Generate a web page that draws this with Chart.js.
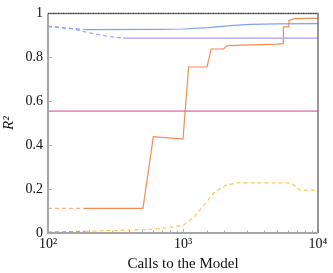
<!DOCTYPE html>
<html>
<head>
<meta charset="utf-8">
<script src="https://cdn.jsdelivr.net/npm/chart.js@4"></script>
<style>
  html, body { margin: 0; padding: 0; background: #fff; }
  #wrap { width: 333px; height: 273px; }
</style>
</head>
<body>
<div id="wrap"><canvas id="chart" width="333" height="273"></canvas></div>
<script>
// x values are "calls to the model", y values are R^2
const refX = [100, 10000];
const refY = [1, 1];

const pinkX = [100, 10000];
const pinkY = [0.555, 0.555];

const blueDashX = [100, 190];
const blueDashY = [0.94, 0.926];
const blueX = [190, 680, 1000, 1540, 2245, 3160, 5000, 10000];
const blueY = [0.926, 0.927, 0.929, 0.935, 0.944, 0.95, 0.952, 0.953];

const purpleDashX = [100, 150, 200, 270, 360];
const purpleDashY = [0.942, 0.93, 0.912, 0.897, 0.887];
const purpleX = [360, 10000];
const purpleY = [0.887, 0.887];

const orangeDashX = [100, 183];
const orangeDashY = [0.112, 0.112];
const orangeX = [183, 505, 603, 1000, 1100, 1507, 1615, 2000, 2124, 5000, 5520, 5540, 6080, 6100, 6620, 10000];
const orangeY = [0.112, 0.112, 0.439, 0.428, 0.756, 0.756, 0.838, 0.838, 0.853, 0.86, 0.862, 0.939, 0.939, 0.967, 0.976, 0.977];

const goldEarlyX = [100, 190];
const goldEarlyY = [0.004, 0.008];
const goldX = [190, 500, 680, 1000, 1200, 1420, 1690, 2060, 2510, 6300, 7430, 10000];
const goldY = [0.008, 0.015, 0.02, 0.034, 0.071, 0.124, 0.183, 0.217, 0.228, 0.228, 0.194, 0.196];

const xTickLabels = { 100: '10²', 1000: '10³', 10000: '10⁴' };
const yTickLabels = { 0: '0', 0.2: '0.2', 0.4: '0.4', 0.6: '0.6', 0.8: '0.8', 1: '1' };

function pts(xs, ys) {
    return xs.map((x, i) => ({ x: x, y: ys[i] }));
}

function line(xs, ys, color, dash, width) {
    return {
        data: pts(xs, ys),
        borderColor: color,
        backgroundColor: color,
        borderWidth: width || 1.2,
        borderDash: dash || [],
        pointRadius: 0,
        fill: false,
        tension: 0
    };
}

// inward tick marks and the frame, drawn like the original plot
const framePlugin = {
    id: 'frame',
    afterDatasetsDraw(chart) {
        const ctx = chart.ctx;
        const a = chart.chartArea;
        const xs = chart.scales.x;
        const ys = chart.scales.y;
        ctx.save();
        ctx.strokeStyle = '#b0b0b0';
        ctx.lineWidth = 1;
        xs.ticks.forEach(t => {
            const px = Math.round(xs.getPixelForValue(t.value)) + 0.5;
            const major = xTickLabels[t.value] !== undefined;
            ctx.beginPath();
            ctx.moveTo(px, a.bottom);
            ctx.lineTo(px, a.bottom - (major ? 4 : 2.5));
            ctx.stroke();
        });
        ys.ticks.forEach(t => {
            const py = Math.round(ys.getPixelForValue(t.value)) + 0.5;
            ctx.beginPath();
            ctx.moveTo(a.left, py);
            ctx.lineTo(a.left + 4, py);
            ctx.stroke();
        });
        ctx.strokeStyle = '#777';
        ctx.lineWidth = 1.5;
        ctx.beginPath();
        ctx.moveTo(a.left, a.top);
        ctx.lineTo(a.right, a.top);
        ctx.lineTo(a.right, a.bottom);
        ctx.stroke();
        ctx.strokeStyle = '#a6a6a6';
        ctx.lineWidth = 2;
        ctx.beginPath();
        ctx.moveTo(a.left, a.top);
        ctx.lineTo(a.left, a.bottom);
        ctx.lineTo(a.right, a.bottom);
        ctx.stroke();
        // dotted reference line at R^2 = 1 on top of the frame
        const py = ys.getPixelForValue(1);
        ctx.strokeStyle = '#333';
        ctx.lineWidth = 1;
        ctx.setLineDash([1, 1.5]);
        ctx.beginPath();
        ctx.moveTo(xs.getPixelForValue(refX[0]), py);
        ctx.lineTo(xs.getPixelForValue(refX[1]), py);
        ctx.stroke();
        ctx.restore();
    }
};

const serif = '"Liberation Serif", "DejaVu Serif", serif';

new Chart(document.getElementById('chart').getContext('2d'), {
    type: 'line',
    data: {
        datasets: [
            line(pinkX, pinkY, '#ee62a4'),
            line(blueDashX, blueDashY, '#7fa2f3', [4, 3]),
            line(blueX, blueY, '#7fa2f3'),
            line(purpleDashX, purpleDashY, '#a89ef4', [4, 3]),
            line(purpleX, purpleY, '#a89ef4'),
            line(goldEarlyX, goldEarlyY, '#e0a628', [4, 3]),
            line(goldX, goldY, '#fcc757', [4, 3]),
            line(orangeDashX, orangeDashY, '#fbb48a', [4, 3]),
            line(orangeX, orangeY, '#f88a52')
        ]
    },
    options: {
        responsive: false,
        animation: false,
        layout: { padding: { top: 9, right: 15, left: 0, bottom: 0 } },
        plugins: {
            legend: { display: false },
            tooltip: { enabled: false }
        },
        scales: {
            x: {
                type: 'logarithmic',
                min: 100,
                max: 10000,
                grid: { display: false, drawTicks: false },
                border: { display: false },
                ticks: {
                    autoSkip: false,
                    maxRotation: 0,
                    padding: 3,
                    color: '#111',
                    font: { family: serif, size: 14 },
                    callback: v => xTickLabels[v] !== undefined ? xTickLabels[v] : ''
                },
                title: {
                    display: true,
                    text: 'Calls to the Model',
                    color: '#111',
                    font: { family: serif, size: 15 },
                    padding: { top: 2, bottom: 0 }
                },
                afterFit: s => { s.height = 40; }
            },
            y: {
                min: 0,
                max: 1,
                grid: { display: false, drawTicks: false },
                border: { display: false },
                ticks: {
                    stepSize: 0.2,
                    padding: 5,
                    color: '#111',
                    font: { family: serif, size: 14 },
                    callback: v => {
                        const k = Math.round(v * 10) / 10;
                        return yTickLabels[k] !== undefined ? yTickLabels[k] : '';
                    }
                },
                title: {
                    display: true,
                    text: 'R²',
                    color: '#111',
                    font: { family: serif, size: 15, style: 'italic' },
                    padding: { top: 0, bottom: 1 }
                },
                afterFit: s => { s.width = 48; }
            }
        }
    },
    plugins: [framePlugin]
});
</script>
</body>
</html>
